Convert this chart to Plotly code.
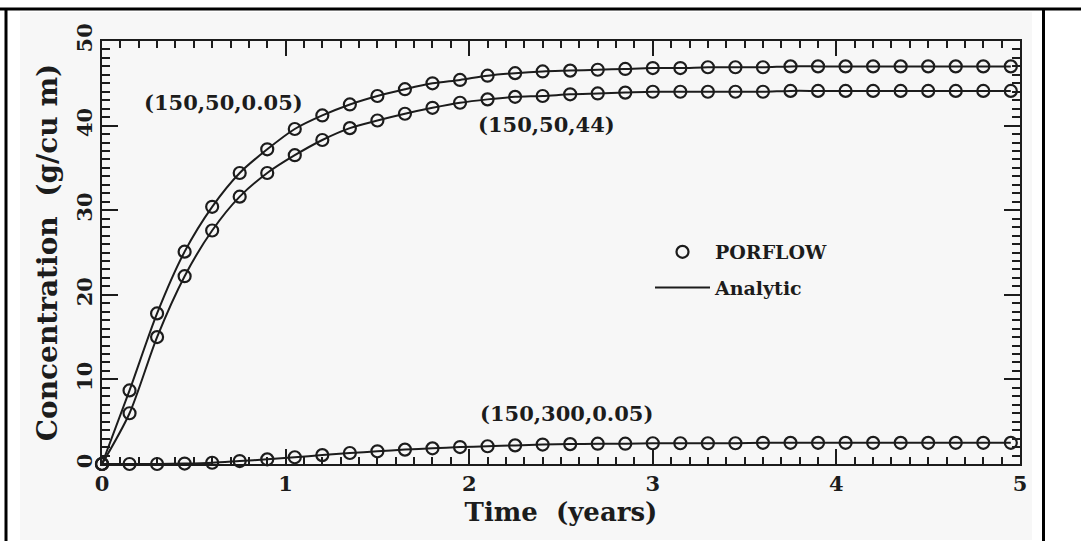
import plotly.graph_objects as go

# ---------------- data ----------------
time_years = [0.00, 0.15, 0.30, 0.45, 0.60, 0.75, 0.90, 1.05, 1.20, 1.35, 1.50, 1.65,
              1.80, 1.95, 2.10, 2.25, 2.40, 2.55, 2.70, 2.85, 3.00, 3.15, 3.30, 3.45,
              3.60, 3.75, 3.90, 4.05, 4.20, 4.35, 4.50, 4.65, 4.80, 4.95]

conc_150_50_005 = [0.0, 8.7, 17.8, 25.1, 30.4, 34.4, 37.2, 39.6, 41.2, 42.5, 43.5, 44.3,
                   45.0, 45.4, 45.9, 46.2, 46.4, 46.5, 46.6, 46.7, 46.8, 46.8, 46.9, 46.9,
                   46.9, 47.0, 47.0, 47.0, 47.0, 47.0, 47.0, 47.0, 47.0, 47.0]

conc_150_50_44 = [0.0, 6.0, 15.0, 22.2, 27.6, 31.6, 34.4, 36.5, 38.3, 39.7, 40.6, 41.4,
                  42.1, 42.7, 43.1, 43.4, 43.5, 43.7, 43.8, 43.9, 44.0, 44.0, 44.0, 44.0,
                  44.0, 44.1, 44.1, 44.1, 44.1, 44.1, 44.1, 44.1, 44.1, 44.1]

conc_150_300_005 = [0.0, 0.0, 0.0, 0.05, 0.15, 0.35, 0.55, 0.8, 1.05, 1.3, 1.5, 1.7,
                    1.85, 2.0, 2.1, 2.2, 2.3, 2.35, 2.4, 2.4, 2.45, 2.45, 2.45, 2.45,
                    2.5, 2.5, 2.5, 2.5, 2.5, 2.5, 2.5, 2.5, 2.5, 2.5]

curve_labels = ["(150,50,0.05)", "(150,50,44)", "(150,300,0.05)"]
label_x = [0.66, 2.42, 2.53]
label_y = [42.7, 40.1, 6.0]

x_ticks = [0, 1, 2, 3, 4, 5]
y_ticks = [0, 10, 20, 30, 40, 50]

# ---------------- styling ----------------
INK = "#1c1c1c"
FONT = "DejaVu Serif"
W, H = 1081, 541
L, R, T, B = 102, 1020, 41, 464   # plot area in pixels


def px_x(p):
    return (p - L) / (R - L)


def px_y(p):
    return (B - p) / (B - T)


fig = go.Figure()

series = [conc_150_50_005, conc_150_50_44, conc_150_300_005]
for i, ys in enumerate(series):
    fig.add_trace(go.Scatter(
        x=time_years, y=ys, mode="lines",
        line=dict(color=INK, width=2, shape="spline", smoothing=0.8),
        name="Analytic", showlegend=(i == 0), legendgroup="b", legendrank=2,
    ))
for i, ys in enumerate(series):
    fig.add_trace(go.Scatter(
        x=time_years, y=ys, mode="markers",
        marker=dict(symbol="circle-open", size=12, color=INK, line=dict(width=2.2, color=INK)),
        name="PORFLOW", showlegend=(i == 0), legendgroup="a", legendrank=1,
        cliponaxis=False,
    ))

for txt, lx, ly in zip(curve_labels, label_x, label_y):
    fig.add_annotation(x=lx, y=ly, text=txt, showarrow=False,
                       font=dict(family=FONT, size=21, color=INK, weight="bold"))

# page frame and off-white card
shapes = [
    dict(type="rect", xref="paper", yref="paper", layer="below",
         x0=px_x(20), x1=px_x(1032), y0=px_y(540), y1=px_y(12),
         fillcolor="#f7f7f7", line=dict(width=0)),
    dict(type="line", xref="paper", yref="paper",
         x0=px_x(0), x1=px_x(W), y0=px_y(9), y1=px_y(9),
         line=dict(color="black", width=3)),
    dict(type="line", xref="paper", yref="paper",
         x0=px_x(6), x1=px_x(6), y0=px_y(9), y1=px_y(H),
         line=dict(color="black", width=3)),
    dict(type="line", xref="paper", yref="paper",
         x0=px_x(1043.5), x1=px_x(1043.5), y0=px_y(9), y1=px_y(H),
         line=dict(color="black", width=3)),
]

axis_common = dict(
    showgrid=False, zeroline=False, showline=True, linecolor=INK, linewidth=2,
    ticks="inside", mirror="allticks", tickcolor=INK, tickwidth=2,
    tickfont=dict(family=FONT, size=21, color=INK, weight="bold"),
)

fig.update_layout(
    width=W, height=H,
    margin=dict(l=L, r=W - R, t=T, b=H - B, pad=0),
    paper_bgcolor="white", plot_bgcolor="#f7f7f7",
    shapes=shapes,
    showlegend=True,
    legend=dict(x=px_x(650), y=px_y(233), xanchor="left", yanchor="top",
                bgcolor="rgba(0,0,0,0)", borderwidth=0,
                font=dict(family=FONT, size=19, color=INK, weight="bold"),
                tracegroupgap=8, itemwidth=55, traceorder="grouped"),
    xaxis=dict(
        range=[0, 5], tickvals=x_ticks, ticklen=15,
        minor=dict(ticks="inside", dtick=0.1, ticklen=7, tickwidth=1.5, tickcolor=INK),
        title=dict(text="Time\u00a0\u00a0(years)", standoff=8,
                   font=dict(family=FONT, size=26, color=INK, weight="bold")),
        **axis_common,
    ),
    yaxis=dict(
        range=[0, 50], tickvals=y_ticks, ticklen=16, tickangle=-90,
        minor=dict(ticks="inside", dtick=1, ticklen=8, tickwidth=1.5, tickcolor=INK),
        title=dict(text="Concentration\u00a0\u00a0(g/cu\u00a0m)", standoff=6,
                   font=dict(family=FONT, size=28, color=INK, weight="bold")),
        **axis_common,
    ),
)

fig.write_html("out.html")
